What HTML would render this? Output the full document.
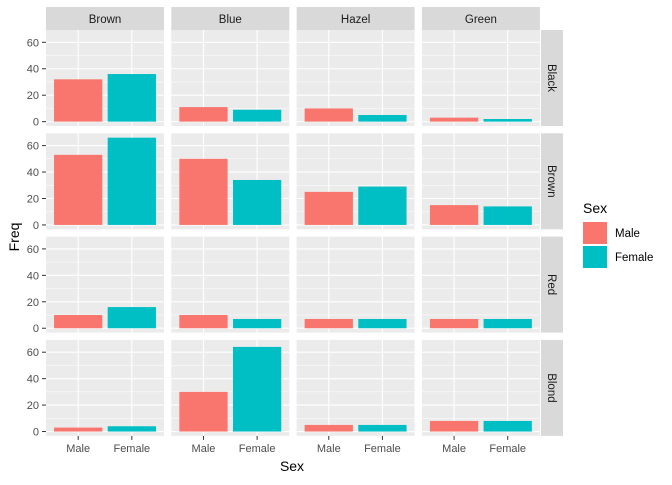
<!DOCTYPE html>
<html><head><meta charset="utf-8"><style>
body{margin:0;background:#fff;font-family:"Liberation Sans",sans-serif}
</style></head><body>
<svg id="c" width="672" height="480" xmlns="http://www.w3.org/2000/svg" font-family="Liberation Sans, sans-serif"></svg>
<script>
const eyeColors=["Brown","Blue","Hazel","Green"];
const hairColors=["Black","Brown","Red","Blond"];
const sexes=["Male","Female"];
const maleFreq=[[32,11,10,3],[53,50,25,15],[10,10,7,7],[3,30,5,8]];
const femaleFreq=[[36,9,5,2],[66,34,29,14],[16,7,7,7],[4,64,5,8]];
const yTicks=[0,20,40,60];
const colors=["#F8766D","#00BFC4"];
const svg=document.getElementById('c');
const NS="http://www.w3.org/2000/svg";
function mk(t,a,p){const e=document.createElementNS(NS,t);for(const k in a)e.setAttribute(k,a[k]);(p||svg).appendChild(e);return e;}
const px0=46,pw=118,pitchX=125.3,py0=30,ph=96,pitchY=103.3;
const all=maleFreq.flat().concat(femaleFreq.flat());
const ymax=Math.max(...all),pad=ymax*0.05,ylo=-pad,yhi=ymax+pad;
function ys(v,r){return py0+r*pitchY+ph-(v-ylo)/(yhi-ylo)*ph;}
function xs(i,c){return px0+c*pitchX+(i+1-0.4)/2.2*pw;}
eyeColors.forEach((eye,c)=>{
  const x=px0+c*pitchX;
  const s=mk('rect',{x:x,y:7,width:pw,height:23,fill:'#D9D9D9'});
  
  const t=mk('text',{x:x+pw/2,y:23,'text-anchor':'middle','font-size':11.5,fill:'#1A1A1A'});t.textContent=eye;
  
});
hairColors.forEach((hair,r)=>{
  const y=py0+r*pitchY;
  const s=mk('rect',{x:541,y:y,width:22,height:ph,fill:'#D9D9D9'});
  
  const t=mk('text',{x:0,y:0,transform:`translate(548,${y+ph/2}) rotate(90)`,'text-anchor':'middle','font-size':11.5,fill:'#1A1A1A'});t.textContent=hair;
  
  yTicks.forEach(v=>{
    const l=mk('text',{x:39,y:ys(v,r)+4,'text-anchor':'end','font-size':11,fill:'#4D4D4D'});l.textContent=v;
    
    mk('line',{x1:42,x2:46,y1:ys(v,r),y2:ys(v,r),stroke:'#333','stroke-width':1});
  });
  eyeColors.forEach((eye,c)=>{
    const x=px0+c*pitchX;
    const p=mk('rect',{x:x,y:y,width:pw,height:ph,fill:'#EBEBEB'});
    
    for(let k=0;k<yTicks.length;k++){
      const m=yTicks[k]+10; if(ys(m,r)>y) mk('line',{x1:x,x2:x+pw,y1:ys(m,r),y2:ys(m,r),stroke:'#fff','stroke-width':0.5});
      mk('line',{x1:x,x2:x+pw,y1:ys(yTicks[k],r),y2:ys(yTicks[k],r),stroke:'#fff','stroke-width':1.1});
    }
    [0,1].forEach(i=>mk('line',{x1:xs(i,c),x2:xs(i,c),y1:y,y2:y+ph,stroke:'#fff','stroke-width':1.1}));
    [maleFreq,femaleFreq].forEach((arr,i)=>{
      const v=arr[r][c];const bw=0.9/2.2*pw;
      const b=mk('rect',{x:xs(i,c)-bw/2,y:ys(v,r),width:bw,height:ys(0,r)-ys(v,r),fill:colors[i]});
      
      
    });
  });
});
eyeColors.forEach((eye,c)=>{
  sexes.forEach((s,i)=>{
    const yb=py0+3*pitchY+ph;
    mk('line',{x1:xs(i,c),x2:xs(i,c),y1:yb,y2:yb+4,stroke:'#333'});
    const t=mk('text',{x:xs(i,c),y:yb+16,'text-anchor':'middle','font-size':11,fill:'#4D4D4D'});t.textContent=s;
    
  });
});
let t=mk('text',{x:292,y:471,'text-anchor':'middle','font-size':14,fill:'#000'});t.textContent='Sex';

t=mk('text',{x:0,y:0,transform:'translate(19,237) rotate(-90)','text-anchor':'middle','font-size':14,fill:'#000'});t.textContent='Freq';

t=mk('text',{x:583,y:213,'font-size':14,fill:'#000'});t.textContent='Sex';

sexes.forEach((s,i)=>{
  const k=mk('rect',{x:583,y:222+i*24,width:24,height:22,fill:colors[i]});
  
  const l=mk('text',{x:615,y:237+i*24,'font-size':11.5,fill:'#000'});l.textContent=s;
  
});
</script>
</body></html>
